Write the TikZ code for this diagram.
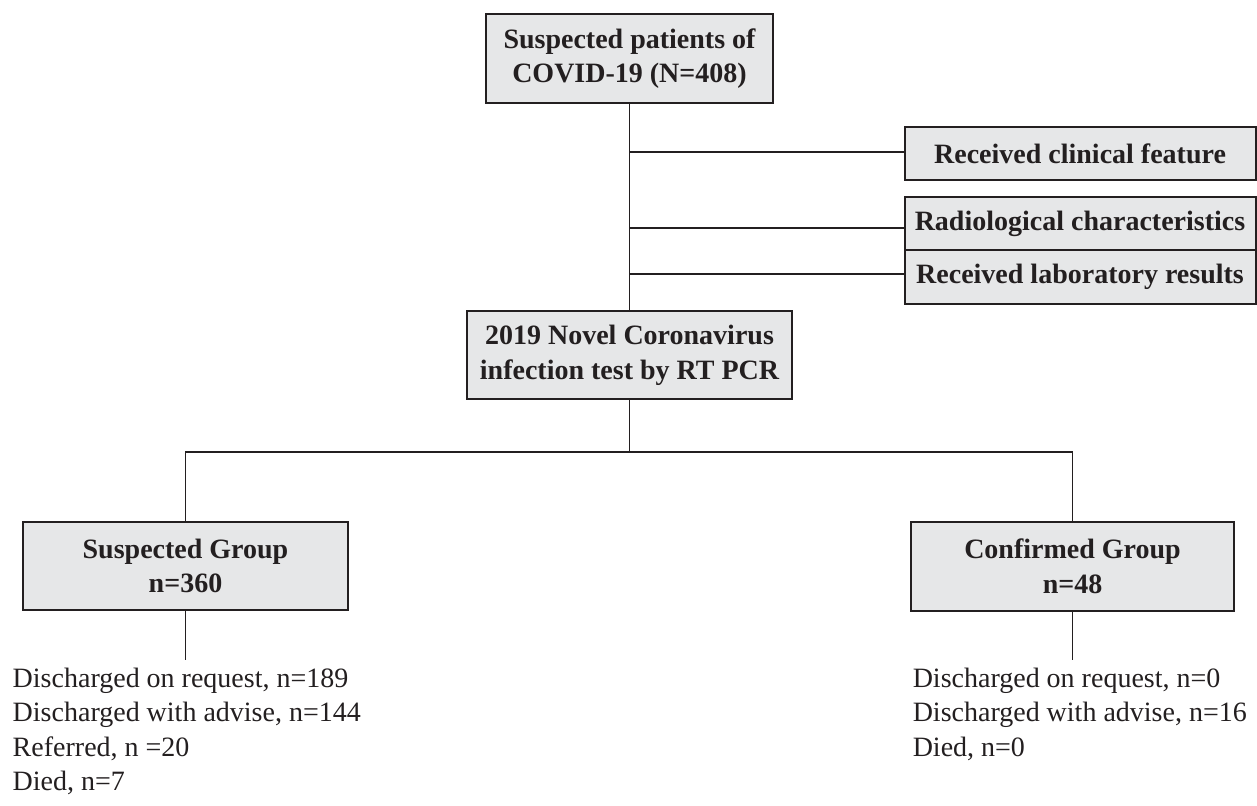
\documentclass[tikz,border=0pt]{standalone}
\usepackage{fontspec}
\setmainfont{Liberation Serif}
\usepackage{tikz}
\definecolor{boxgray}{HTML}{E6E7E8}
\definecolor{ink}{HTML}{231F20}
\tikzstyle{gbox} = [rectangle, draw=ink, fill=boxgray, line width=1pt,
    align=center, font=\bfseries\fontsize{14}{17.3}\selectfont, inner sep=0pt]
\tikzstyle{outcome} = [align=left, anchor=north west, inner xsep=0pt, inner ysep=3.5pt,
    font=\fontsize{14}{17.3}\selectfont]

\begin{document}
\begin{tikzpicture}[x=0.5pt,y=-0.5pt,line width=0.75pt,draw=ink,text=ink]
  \useasboundingbox (0,0) rectangle (1257,805);
  \node[gbox, minimum width=143.5pt, minimum height=44.5pt] (top) at (629.5,58.5)
    {Suspected patients of\\COVID-19 (N=408)};
  \node[gbox, minimum width=175.5pt, minimum height=26.5pt] (clin) at (1080,153.5)
    {Received clinical feature};
  \node[gbox, minimum width=175.5pt, minimum height=26.5pt] (radio) at (1080,223.5)
    {Radiological characteristics};
  \node[gbox, minimum width=175.5pt, minimum height=27pt] (lab) at (1080,277)
    {Received laboratory results};
  \node[gbox, minimum width=162.5pt, minimum height=44pt] (pcr) at (629.5,355)
    {2019 Novel Coronavirus\\infection test by RT PCR};
  \coordinate (split) at (629.5,452);
  \node[gbox, minimum width=162.5pt, minimum height=44pt] (susp) at (185.5,566)
    {Suspected Group\\n=360};
  \node[gbox, minimum width=161.5pt, minimum height=44.5pt] (conf) at (1072.5,566.5)
    {Confirmed Group\\n=48};
  \node[outcome] (slist) at (12,660)
    {Discharged on request, n=189\\Discharged with advise, n=144\\Referred, n =20\\Died, n=7};
  \node[outcome] (clist) at (912,660)
    {Discharged on request, n=0\\Discharged with advise, n=16\\Died, n=0};

  % trunk and side boxes
  \draw (top) -- (pcr);
  \draw ([yshift=0.75pt]clin.west -| top.south) -- ([yshift=0.75pt]clin.west);
  \draw ([yshift=-2.25pt]radio.west -| top.south) -- ([yshift=-2.25pt]radio.west);
  \draw ([yshift=1.5pt]lab.west -| top.south) -- ([yshift=1.5pt]lab.west);
  % split into the two groups
  \draw (pcr) -- (split);
  \draw (susp) -- (susp |- split) -- (conf |- split) -- (conf);
  \draw (susp.south) -- (susp.south |- slist.north);
  \draw (conf.south) -- (conf.south |- clist.north);
\end{tikzpicture}
\end{document}
